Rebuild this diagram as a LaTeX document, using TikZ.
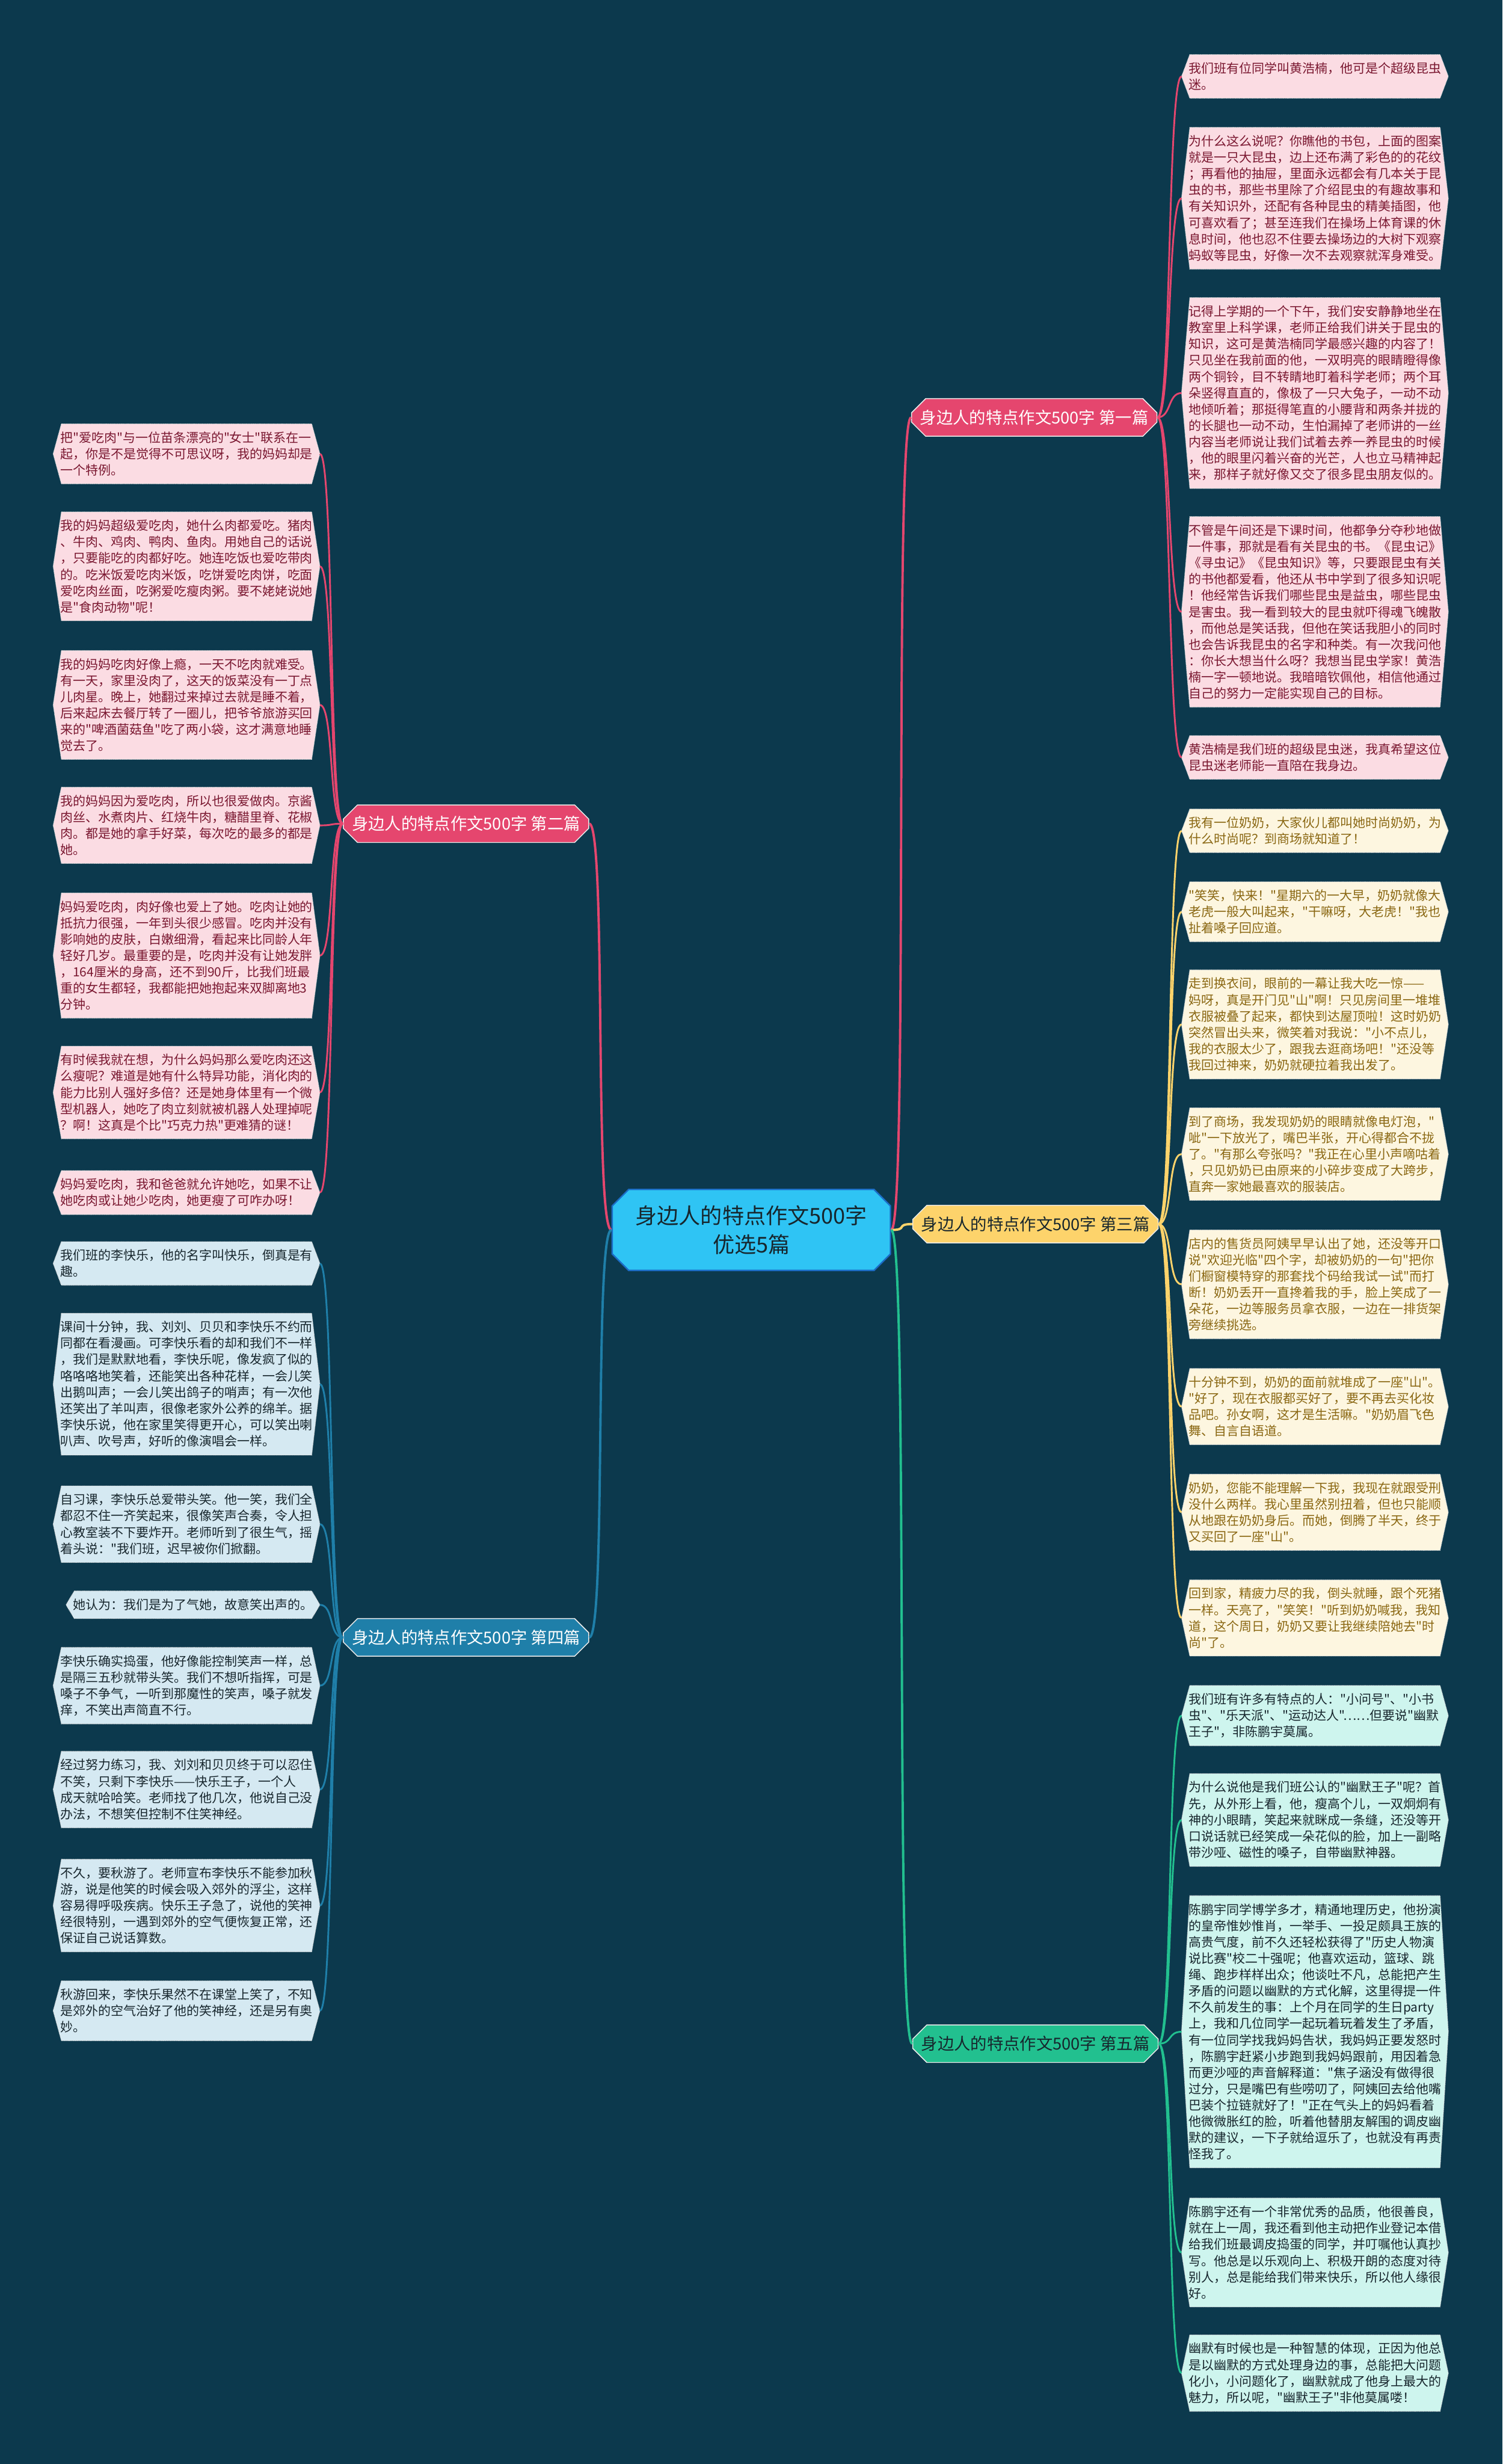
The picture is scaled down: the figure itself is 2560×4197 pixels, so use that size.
\documentclass[tikz,border=0pt]{standalone}
\usepackage{fontspec}
\newfontfamily\cjk{Noto Sans CJK SC}[Ligatures=TeXOff]
\usetikzlibrary{backgrounds,shapes.misc}

\definecolor{bgteal}{HTML}{0C394D}
\definecolor{rosebr}{HTML}{E5466E}
\definecolor{roseleaf}{HTML}{FBDCE3}
\definecolor{rosetext}{HTML}{7A1730}
\definecolor{goldbr}{HTML}{FDD36B}
\definecolor{goldleaf}{HTML}{FDF6E0}
\definecolor{goldtext}{HTML}{8A6712}
\definecolor{bluebr}{HTML}{1F7FA9}
\definecolor{blueleaf}{HTML}{D5E9F2}
\definecolor{greenbr}{HTML}{22C08F}
\definecolor{greenleaf}{HTML}{CEF5EE}
\definecolor{darktext}{HTML}{17262D}
\definecolor{skymain}{HTML}{2FC4F4}
\definecolor{skyedge}{HTML}{1B6CC6}

% hexagon behind a leaf node
\newcommand\hexleaf[2]{\draw[hexline,fill=#2] ([xshift=14pt]#1.north west) -- ([xshift=-14pt]#1.north east) -- (#1.east) -- ([xshift=-14pt]#1.south east) -- ([xshift=14pt]#1.south west) -- (#1.west) -- cycle;}

\begin{document}
\begin{tikzpicture}[x=1pt,y=-1pt,
  leaf/.style={text width=430pt,inner xsep=12pt,inner ysep=13pt,align=left,font=\cjk\fontsize{21.5pt}{27.8pt}\selectfont},
  leafright/.style={leaf,anchor=north west},
  leafleft/.style={leaf,anchor=north east},
  hexline/.style={draw=white!80!gray,densely dotted,line width=1.2pt},
  branch/.style={chamfered rectangle,chamfered rectangle xsep=8pt,chamfered rectangle ysep=16pt,fill=#1,draw=white!85!gray,line width=1.5pt,minimum width=418pt,minimum height=64pt,inner sep=0pt,font=\cjk\fontsize{28pt}{34pt}\selectfont},
  mainidea/.style={chamfered rectangle,chamfered rectangle xsep=11pt,chamfered rectangle ysep=17pt,fill=skymain,draw=skyedge,line width=2.5pt,minimum width=474pt,minimum height=138pt,inner sep=0pt,align=center,text=darktext,font=\cjk\fontsize{37pt}{50pt}\selectfont},
  trunk/.style={line width=4pt},
  twig/.style={line width=3pt}]
\begin{pgfonlayer}{background}
\fill[bgteal] (0,0) rectangle (2560,4197);
\end{pgfonlayer}

\node[mainidea] (main) at (1280,2095) {身边人的特点作文500字\\优选5篇};

\node[branch=rosebr,text=white] (b1) at (1762,711) {身边人的特点作文500字 第一篇};
\node[branch=rosebr,text=white] (b2) at (794,1403) {身边人的特点作文500字 第二篇};
\node[branch=goldbr,text=darktext] (b3) at (1764,2085) {身边人的特点作文500字 第三篇};
\node[branch=bluebr,text=white] (b4) at (794,2789) {身边人的特点作文500字 第四篇};
\node[branch=greenbr,text=darktext] (b5) at (1764,3481) {身边人的特点作文500字 第五篇};

% first
\node[leafright,text=rosetext] (r1) at (2013,93) {我们班有位同学叫黄浩楠，他可是个超级昆虫\\迷。};
\node[leafright,text=rosetext] (r2) at (2013,217) {为什么这么说呢？你瞧他的书包，上面的图案\\就是一只大昆虫，边上还布满了彩色的的花纹\\；再看他的抽屉，里面永远都会有几本关于昆\\虫的书，那些书里除了介绍昆虫的有趣故事和\\有关知识外，还配有各种昆虫的精美插图，他\\可喜欢看了；甚至连我们在操场上体育课的休\\息时间，他也忍不住要去操场边的大树下观察\\蚂蚁等昆虫，好像一次不去观察就浑身难受。};
\node[leafright,text=rosetext] (r3) at (2013,507) {记得上学期的一个下午，我们安安静静地坐在\\教室里上科学课，老师正给我们讲关于昆虫的\\知识，这可是黄浩楠同学最感兴趣的内容了！\\只见坐在我前面的他，一双明亮的眼睛瞪得像\\两个铜铃，目不转睛地盯着科学老师；两个耳\\朵竖得直直的，像极了一只大兔子，一动不动\\地倾听着；那挺得笔直的小腰背和两条并拢的\\的长腿也一动不动，生怕漏掉了老师讲的一丝\\内容当老师说让我们试着去养一养昆虫的时候\\，他的眼里闪着兴奋的光芒，人也立马精神起\\来，那样子就好像又交了很多昆虫朋友似的。};
\node[leafright,text=rosetext] (r4) at (2013,880) {不管是午间还是下课时间，他都争分夺秒地做\\一件事，那就是看有关昆虫的书。《昆虫记》\\《寻虫记》《昆虫知识》等，只要跟昆虫有关\\的书他都爱看，他还从书中学到了很多知识呢\\！他经常告诉我们哪些昆虫是益虫，哪些昆虫\\是害虫。我一看到较大的昆虫就吓得魂飞魄散\\，而他总是笑话我，但他在笑话我胆小的同时\\也会告诉我昆虫的名字和种类。有一次我问他\\：你长大想当什么呀？我想当昆虫学家！黄浩\\楠一字一顿地说。我暗暗钦佩他，相信他通过\\自己的努力一定能实现自己的目标。};
\node[leafright,text=rosetext] (r5) at (2013,1253) {黄浩楠是我们班的超级昆虫迷，我真希望这位\\昆虫迷老师能一直陪在我身边。};

% third
\node[leafright,text=goldtext] (r6) at (2013,1378) {我有一位奶奶，大家伙儿都叫她时尚奶奶，为\\什么时尚呢？到商场就知道了！};
\node[leafright,text=goldtext] (r7) at (2013,1502) {"笑笑，快来！"星期六的一大早，奶奶就像大\\老虎一般大叫起来，"干嘛呀，大老虎！"我也\\扯着嗓子回应道。};
\node[leafright,text=goldtext] (r8) at (2013,1652) {走到换衣间，眼前的一幕让我大吃一惊——\\妈呀，真是开门见"山"啊！只见房间里一堆堆\\衣服被叠了起来，都快到达屋顶啦！这时奶奶\\突然冒出头来，微笑着对我说："小不点儿，\\我的衣服太少了，跟我去逛商场吧！"还没等\\我回过神来，奶奶就硬拉着我出发了。};
\node[leafright,text=goldtext] (r9) at (2013,1887) {到了商场，我发现奶奶的眼睛就像电灯泡，"\\呲"一下放光了，嘴巴半张，开心得都合不拢\\了。"有那么夸张吗？"我正在心里小声嘀咕着\\，只见奶奶已由原来的小碎步变成了大跨步，\\直奔一家她最喜欢的服装店。};
\node[leafright,text=goldtext] (r10) at (2013,2095) {店内的售货员阿姨早早认出了她，还没等开口\\说"欢迎光临"四个字，却被奶奶的一句"把你\\们橱窗模特穿的那套找个码给我试一试"而打\\断！奶奶丢开一直搀着我的手，脸上笑成了一\\朵花，一边等服务员拿衣服，一边在一排货架\\旁继续挑选。};
\node[leafright,text=goldtext] (r11) at (2013,2331) {十分钟不到，奶奶的面前就堆成了一座"山"。\\"好了，现在衣服都买好了，要不再去买化妆\\品吧。孙女啊，这才是生活嘛。"奶奶眉飞色\\舞、自言自语道。};
\node[leafright,text=goldtext] (r12) at (2013,2511) {奶奶，您能不能理解一下我，我现在就跟受刑\\没什么两样。我心里虽然别扭着，但也只能顺\\从地跟在奶奶身后。而她，倒腾了半天，终于\\又买回了一座"山"。};
\node[leafright,text=goldtext] (r13) at (2013,2691) {回到家，精疲力尽的我，倒头就睡，跟个死猪\\一样。天亮了，"笑笑！"听到奶奶喊我，我知\\道，这个周日，奶奶又要让我继续陪她去"时\\尚"了。};

% fifth
\node[leafright,text=darktext] (r14) at (2013,2871) {我们班有许多有特点的人："小问号"、"小书\\虫"、"乐天派"、"运动达人"……但要说"幽默\\王子"，非陈鹏宇莫属。};
\node[leafright,text=darktext] (r15) at (2013,3021) {为什么说他是我们班公认的"幽默王子"呢？首\\先，从外形上看，他，瘦高个儿，一双炯炯有\\神的小眼睛，笑起来就眯成一条缝，还没等开\\口说话就已经笑成一朵花似的脸，加上一副略\\带沙哑、磁性的嗓子，自带幽默神器。};
\node[leafright,text=darktext] (r16) at (2013,3229) {陈鹏宇同学博学多才，精通地理历史，他扮演\\的皇帝惟妙惟肖，一举手、一投足颇具王族的\\高贵气度，前不久还轻松获得了"历史人物演\\说比赛"校二十强呢；他喜欢运动，篮球、跳\\绳、跑步样样出众；他谈吐不凡，总能把产生\\矛盾的问题以幽默的方式化解，这里得提一件\\不久前发生的事：上个月在同学的生日party\\上，我和几位同学一起玩着玩着发生了矛盾，\\有一位同学找我妈妈告状，我妈妈正要发怒时\\，陈鹏宇赶紧小步跑到我妈妈跟前，用因着急\\而更沙哑的声音解释道："焦子涵没有做得很\\过分，只是嘴巴有些唠叨了，阿姨回去给他嘴\\巴装个拉链就好了！"正在气头上的妈妈看着\\他微微胀红的脸，听着他替朋友解围的调皮幽\\默的建议，一下子就给逗乐了，也就没有再责\\怪我了。};
\node[leafright,text=darktext] (r17) at (2013,3744) {陈鹏宇还有一个非常优秀的品质，他很善良，\\就在上一周，我还看到他主动把作业登记本借\\给我们班最调皮捣蛋的同学，并叮嘱他认真抄\\写。他总是以乐观向上、积极开朗的态度对待\\别人，总是能给我们带来快乐，所以他人缘很\\好。};
\node[leafright,text=darktext] (r18) at (2013,3977) {幽默有时候也是一种智慧的体现，正因为他总\\是以幽默的方式处理身边的事，总能把大问题\\化小，小问题化了，幽默就成了他身上最大的\\魅力，所以呢，"幽默王子"非他莫属喽！};

% second
\node[leafleft,text=rosetext] (l1) at (545,722) {把"爱吃肉"与一位苗条漂亮的"女士"联系在一\\起，你是不是觉得不可思议呀，我的妈妈却是\\一个特例。};
\node[leafleft,text=rosetext] (l2) at (545,872) {我的妈妈超级爱吃肉，她什么肉都爱吃。猪肉\\、牛肉、鸡肉、鸭肉、鱼肉。用她自己的话说\\，只要能吃的肉都好吃。她连吃饭也爱吃带肉\\的。吃米饭爱吃肉米饭，吃饼爱吃肉饼，吃面\\爱吃肉丝面，吃粥爱吃瘦肉粥。要不姥姥说她\\是"食肉动物"呢！};
\node[leafleft,text=rosetext] (l3) at (545,1108) {我的妈妈吃肉好像上瘾，一天不吃肉就难受。\\有一天，家里没肉了，这天的饭菜没有一丁点\\儿肉星。晚上，她翻过来掉过去就是睡不着，\\后来起床去餐厅转了一圈儿，把爷爷旅游买回\\来的"啤酒菌菇鱼"吃了两小袋，这才满意地睡\\觉去了。};
\node[leafleft,text=rosetext] (l4) at (545,1341) {我的妈妈因为爱吃肉，所以也很爱做肉。京酱\\肉丝、水煮肉片、红烧牛肉，糖醋里脊、花椒\\肉。都是她的拿手好菜，每次吃的最多的都是\\她。};
\node[leafleft,text=rosetext] (l5) at (545,1521) {妈妈爱吃肉，肉好像也爱上了她。吃肉让她的\\抵抗力很强，一年到头很少感冒。吃肉并没有\\影响她的皮肤，白嫩细滑，看起来比同龄人年\\轻好几岁。最重要的是，吃肉并没有让她发胖\\，164厘米的身高，还不到90斤，比我们班最\\重的女生都轻，我都能把她抱起来双脚离地3\\分钟。};
\node[leafleft,text=rosetext] (l6) at (545,1782) {有时候我就在想，为什么妈妈那么爱吃肉还这\\么瘦呢？难道是她有什么特异功能，消化肉的\\能力比别人强好多倍？还是她身体里有一个微\\型机器人，她吃了肉立刻就被机器人处理掉呢\\？啊！这真是个比"巧克力热"更难猜的谜！};
\node[leafleft,text=rosetext] (l7) at (545,1994) {妈妈爱吃肉，我和爸爸就允许她吃，如果不让\\她吃肉或让她少吃肉，她更瘦了可咋办呀！};

% fourth
\node[leafleft,text=darktext] (l8) at (545,2115) {我们班的李快乐，他的名字叫快乐，倒真是有\\趣。};
\node[leafleft,text=darktext] (l9) at (545,2237) {课间十分钟，我、刘刘、贝贝和李快乐不约而\\同都在看漫画。可李快乐看的却和我们不一样\\，我们是默默地看，李快乐呢，像发疯了似的\\咯咯咯地笑着，还能笑出各种花样，一会儿笑\\出鹅叫声；一会儿笑出鸽子的哨声；有一次他\\还笑出了羊叫声，很像老家外公养的绵羊。据\\李快乐说，他在家里笑得更开心，可以笑出喇\\叭声、吹号声，好听的像演唱会一样。};
\node[leafleft,text=darktext] (l10) at (545,2531) {自习课，李快乐总爱带头笑。他一笑，我们全\\都忍不住一齐笑起来，很像笑声合奏，令人担\\心教室装不下要炸开。老师听到了很生气，摇\\着头说："我们班，迟早被你们掀翻。};
\node[leafleft,text=darktext,text width=408pt] (l11) at (545,2710) {她认为：我们是为了气她，故意笑出声的。};
\node[leafleft,text=darktext] (l12) at (545,2806) {李快乐确实捣蛋，他好像能控制笑声一样，总\\是隔三五秒就带头笑。我们不想听指挥，可是\\嗓子不争气，一听到那魔性的笑声，嗓子就发\\痒，不笑出声简直不行。};
\node[leafleft,text=darktext] (l13) at (545,2983) {经过努力练习，我、刘刘和贝贝终于可以忍住\\不笑，只剩下李快乐——快乐王子，一个人\\成天就哈哈笑。老师找了他几次，他说自己没\\办法，不想笑但控制不住笑神经。};
\node[leafleft,text=darktext] (l14) at (545,3167) {不久，要秋游了。老师宣布李快乐不能参加秋\\游，说是他笑的时候会吸入郊外的浮尘，这样\\容易得呼吸疾病。快乐王子急了，说他的笑神\\经很特别，一遇到郊外的空气便恢复正常，还\\保证自己说话算数。};
\node[leafleft,text=darktext] (l15) at (545,3374) {秋游回来，李快乐果然不在课堂上笑了，不知\\是郊外的空气治好了他的笑神经，还是另有奥\\妙。};

\begin{pgfonlayer}{background}
\foreach \n in {r1,r2,r3,r4,r5,l1,l2,l3,l4,l5,l6,l7} {\hexleaf{\n}{roseleaf}}
\foreach \n in {r6,r7,r8,r9,r10,r11,r12,r13} {\hexleaf{\n}{goldleaf}}
\foreach \n in {l8,l9,l10,l11,l12,l13,l14,l15} {\hexleaf{\n}{blueleaf}}
\foreach \n in {r14,r15,r16,r17,r18} {\hexleaf{\n}{greenleaf}}
\end{pgfonlayer}

\draw[trunk,rosebr] (main.east) .. controls +(30,0) and +(-30,0) .. (b1.west);
\draw[trunk,goldbr] (main.east) .. controls +(30,0) and +(-30,0) .. (b3.west);
\draw[trunk,greenbr] (main.east) .. controls +(30,0) and +(-30,0) .. (b5.west);
\draw[trunk,rosebr] (main.west) .. controls +(-30,0) and +(30,0) .. (b2.east);
\draw[trunk,bluebr] (main.west) .. controls +(-30,0) and +(30,0) .. (b4.east);

\foreach \t in {r1,r2,r3,r4,r5}
  {\draw[twig,rosebr] (b1.east) .. controls +(24,0) and +(-24,0) .. (\t.west);}
\foreach \t in {r6,r7,r8,r9,r10,r11,r12,r13}
  {\draw[twig,goldbr] (b3.east) .. controls +(24,0) and +(-24,0) .. (\t.west);}
\foreach \t in {r14,r15,r16,r17,r18}
  {\draw[twig,greenbr] (b5.east) .. controls +(24,0) and +(-24,0) .. (\t.west);}
\foreach \t in {l1,l2,l3,l4,l5,l6,l7}
  {\draw[twig,rosebr] (b2.west) .. controls +(-24,0) and +(24,0) .. (\t.east);}
\foreach \t in {l8,l9,l10,l11,l12,l13,l14,l15}
  {\draw[twig,bluebr] (b4.west) .. controls +(-24,0) and +(24,0) .. (\t.east);}
\end{tikzpicture}
\end{document}
